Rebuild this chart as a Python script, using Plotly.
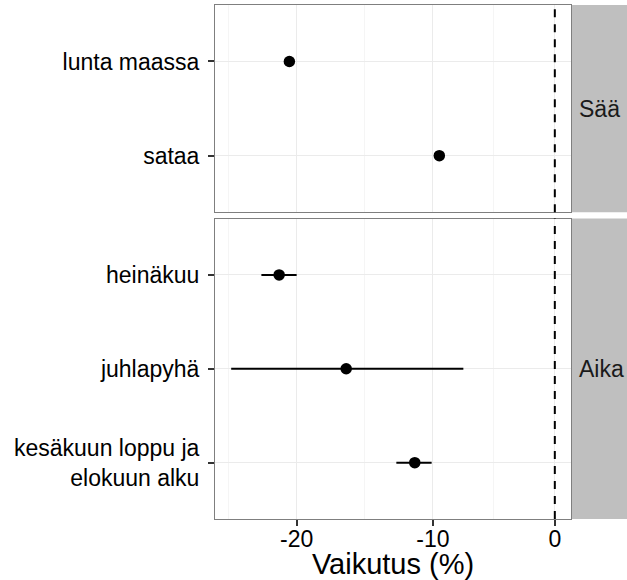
import numpy as np
import plotly.graph_objects as go

# ---- data (effects in %) ----
saa_labels = ["lunta maassa", "sataa"]
saa_est = [-20.5, -9.5]

aika_labels = ["heinäkuu", "juhlapyhä", "kesäkuun loppu ja<br>elokuun alku"]
aika_est = [-21.2, -16.5, -11.4]
aika_lo = [-22.4, -24.4, -12.8]
aika_hi = [-20.0, -7.6, -10.1]

x_tick_values = [-20, -10, 0]
strip_labels = ["Sää", "Aika"]
x_title = "Vaikutus (%)"

FONT = "Liberation Sans, Arial, Helvetica, sans-serif"


def ratio(v):
    return 1 + np.asarray(v, dtype=float) / 100.0


# log-scaled x axis (effect as multiplicative ratio), ggplot-like 5% expansion
t_all = np.log(np.concatenate([ratio(saa_est), ratio(aika_est), ratio(aika_lo),
                               ratio(aika_hi), ratio([0])]))
tmin, tmax = t_all.min(), t_all.max()
pad = 0.05 * (tmax - tmin)
x_range = [(tmin - pad) / np.log(10), (tmax + pad) / np.log(10)]

# minor breaks: midpoints (in transformed space) between major breaks, plus one extension
tb = np.log(ratio(x_tick_values))
ext = np.concatenate([[tb[0] - (tb[1] - tb[0])], tb])
minor_vals = list(np.exp((ext[:-1] + ext[1:]) / 2))

fig = go.Figure()

fig.add_trace(go.Scatter(
    x=ratio(saa_est), y=saa_labels, mode="markers",
    marker=dict(size=11.5, color="black"), xaxis="x", yaxis="y", showlegend=False,
))

ae = ratio(aika_est)
fig.add_trace(go.Scatter(
    x=ae, y=aika_labels, mode="markers",
    marker=dict(size=11.5, color="black"),
    error_x=dict(type="data", symmetric=False,
                 array=ratio(aika_hi) - ae, arrayminus=ae - ratio(aika_lo),
                 thickness=2, width=0, color="black"),
    xaxis="x2", yaxis="y2", showlegend=False,
))

top_dom = [0.597, 1.0]
bot_dom = [0.0, 0.5844]

common_x = dict(
    type="log", range=x_range, showline=True, mirror=True, linecolor="#7F7F7F",
    linewidth=1, showgrid=True, gridcolor="#EBEBEB", gridwidth=1,
    tickvals=list(ratio(x_tick_values)), ticktext=[str(v) for v in x_tick_values],
    minor=dict(tickvals=minor_vals, showgrid=True, gridcolor="#F5F5F5", gridwidth=1),
    zeroline=False, automargin=False,
)
common_y = dict(
    type="category", showline=True, mirror=True, linecolor="#7F7F7F", linewidth=1,
    showgrid=True, gridcolor="#EBEBEB", gridwidth=1, ticks="outside", ticklen=6,
    tickwidth=1.5, tickcolor="#333333", tickfont=dict(size=23, color="black", family=FONT),
    ticklabelstandoff=4, zeroline=False, automargin=False,
)

fig.update_layout(
    width=627, height=580,
    margin=dict(l=215, r=56, t=5, b=61),
    paper_bgcolor="white", plot_bgcolor="white",
    font=dict(family=FONT, color="black"),
    xaxis=dict(common_x, anchor="y", showticklabels=False, ticks=""),
    yaxis=dict(common_y, domain=top_dom, anchor="x", categoryorder="array",
               categoryarray=saa_labels, range=[len(saa_labels) - 0.4, -0.6]),
    xaxis2=dict(common_x, anchor="y2", matches="x", ticks="outside", ticklen=6,
                tickwidth=1.5, tickcolor="#333333", ticklabelstandoff=-7,
                tickfont=dict(size=23, color="black", family=FONT),
                title=dict(text=x_title, font=dict(size=29, color="black", family=FONT),
                           standoff=7)),
    yaxis2=dict(common_y, domain=bot_dom, anchor="x2", categoryorder="array",
                categoryarray=aika_labels, range=[len(aika_labels) - 0.4, -0.6]),
)

# dashed reference line at 0 %
for xr, yr in (("x", "y domain"), ("x2", "y2 domain")):
    fig.add_shape(type="line", xref=xr, yref=yr, x0=1, x1=1, y0=0, y1=1,
                  line=dict(color="black", width=2, dash="8px,7px"), layer="above")

# facet strips on the right
for dom, lab in ((top_dom, strip_labels[0]), (bot_dom, strip_labels[1])):
    fig.add_shape(type="rect", xref="paper", yref="paper", x0=1.002, x1=1.2,
                  y0=dom[0], y1=dom[1], fillcolor="#BFBFBF", line=dict(width=0),
                  layer="below")
    fig.add_annotation(xref="paper", yref="paper", x=1.016, y=(dom[0] + dom[1]) / 2,
                       text=lab, showarrow=False, xanchor="left", yanchor="middle",
                       font=dict(size=23, color="#1A1A1A", family=FONT))

fig.write_html("out.html")
